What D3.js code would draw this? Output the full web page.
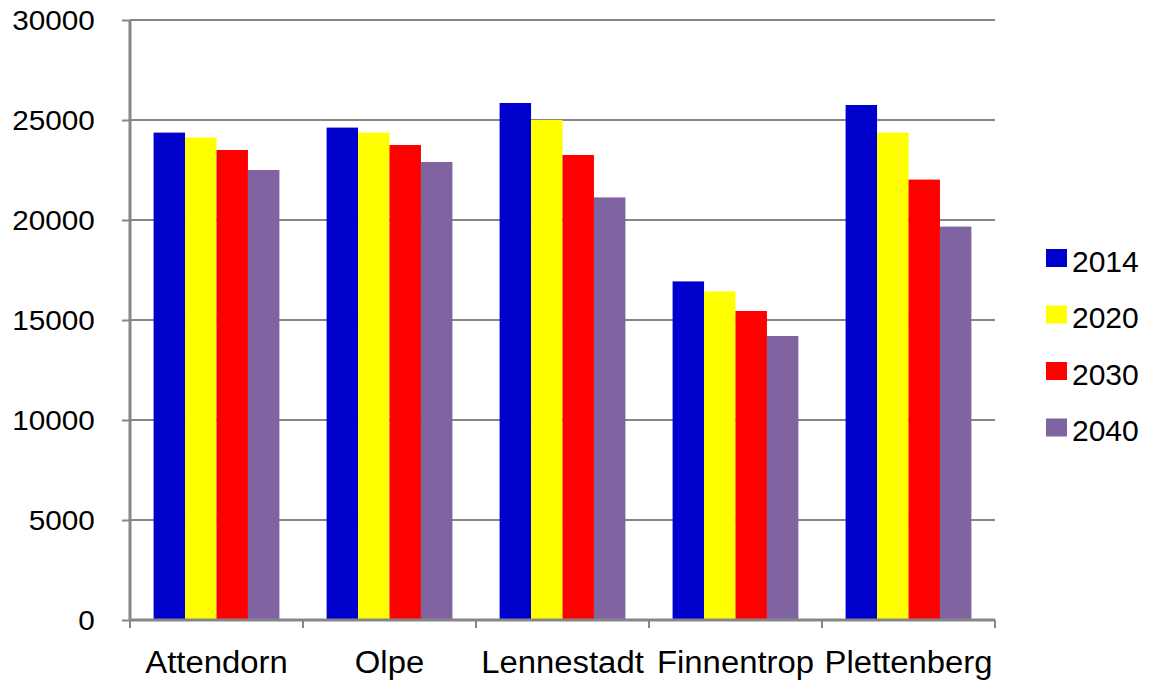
<!DOCTYPE html>
<html>
<head>
<meta charset="utf-8">
<script src="https://cdn.jsdelivr.net/npm/d3@7"></script>
<style>
  html, body { margin: 0; padding: 0; background: #fff; }
  svg { display: block; font-family: "Liberation Sans", Arial, sans-serif; }
</style>
</head>
<body>
<svg id="chart" width="1149" height="682"></svg>
<script>
// Einwohnerentwicklung je Stadt
const towns = ["Attendorn", "Olpe", "Lennestadt", "Finnentrop", "Plettenberg"];
const years = ["2014", "2020", "2030", "2040"];
const pop2014 = [24370, 24620, 25850, 16930, 25750];
const pop2020 = [24120, 24370, 25000, 16430, 24370];
const pop2030 = [23500, 23750, 23250, 15450, 22020];
const pop2040 = [22500, 22900, 21130, 14200, 19670];
const yTicks = [0, 5000, 10000, 15000, 20000, 25000, 30000];
const colors = ["#0000CC", "#FFFF00", "#FF0000", "#8064A2"];

const series = [pop2014, pop2020, pop2030, pop2040];
const svg = d3.select("#chart");
const plotLeft = 130, plotRight = 995, plotTop = 20, plotBottom = 620;
const gridColor = "#868686";

const x = d3.scaleBand().domain(towns).range([plotLeft, plotRight]).paddingInner(0).paddingOuter(0);
const y = d3.scaleLinear().domain([0, 30000]).range([plotBottom, plotTop]);

// Gridlines
svg.append("g").selectAll("line").data(yTicks.filter(t => t > 0)).join("line")
  .attr("x1", plotLeft).attr("x2", plotRight)
  .attr("y1", d => y(d)).attr("y2", d => y(d))
  .attr("stroke", gridColor).attr("stroke-width", 2);

// Bars: group occupies 4 bar widths, 1.5 bar widths of gap
const barW = x.bandwidth() / 5.5;
const groupOff = (x.bandwidth() - 4 * barW) / 2;
const gBars = svg.append("g");
towns.forEach((t, i) => {
  series.forEach((s, j) => {
    gBars.append("rect")
      .attr("x", x(t) + groupOff + j * barW)
      .attr("y", y(s[i]))
      .attr("width", barW)
      .attr("height", y(0) - y(s[i]))
      .attr("fill", colors[j]);
  });
});

// Y axis (labels slightly widened)
const yAxis = svg.append("g").attr("transform", `translate(${plotLeft},0)`)
  .call(d3.axisLeft(y).tickValues(yTicks).tickSize(8).tickPadding(24).tickFormat(d3.format("d")));
yAxis.select(".domain").attr("stroke", gridColor).attr("stroke-width", 3).attr("d", `M0,${plotTop}V${plotBottom}`);
yAxis.selectAll(".tick line").attr("stroke", gridColor).attr("stroke-width", 2);
yAxis.selectAll(".tick text").attr("font-size", 27).attr("fill", "#000")
  .attr("font-family", "'Liberation Sans', Arial, sans-serif").attr("dy", "0.36em")
  .attr("transform", "scale(1.1,1)");

// X axis
const xTickPos = towns.map(t => x(t)).concat([plotRight]);
const xAxis = svg.append("g");
xAxis.append("line").attr("x1", plotLeft).attr("x2", plotRight).attr("y1", plotBottom).attr("y2", plotBottom)
  .attr("stroke", gridColor).attr("stroke-width", 3);
xAxis.selectAll("line.tk").data(xTickPos).join("line").attr("class", "tk")
  .attr("x1", d => d).attr("x2", d => d).attr("y1", plotBottom).attr("y2", plotBottom + 8)
  .attr("stroke", gridColor).attr("stroke-width", 2);
xAxis.selectAll("text").data(towns).join("text")
  .attr("transform", d => `translate(${x(d) + x.bandwidth() / 2},673) scale(1.06,1)`)
  .attr("text-anchor", "middle").attr("font-size", 31).attr("fill", "#000")
  .text(d => d);

// Legend
const leg = svg.append("g");
years.forEach((yr, j) => {
  const cy = 258 + j * 56.5;
  leg.append("rect").attr("x", 1046).attr("y", cy - 9).attr("width", 21).attr("height", 18).attr("fill", colors[j]);
  leg.append("text").attr("x", 1072).attr("y", cy + 13.5).attr("font-size", 30).attr("fill", "#000").text(yr);
});
</script>
</body>
</html>
